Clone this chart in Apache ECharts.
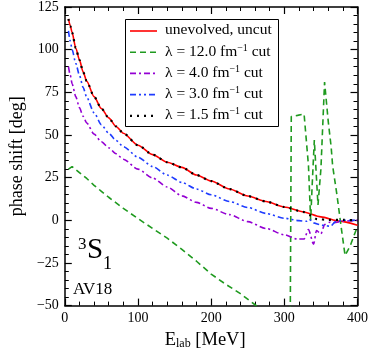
<!DOCTYPE html>
<html>
<head>
<meta charset="utf-8">
<script src="https://cdn.jsdelivr.net/npm/echarts@6/dist/echarts.min.js"></script>
<style>
html, body { margin: 0; padding: 0; background: #fff; }
#chart { width: 371px; height: 355px; }
</style>
</head>
<body>
<div id="chart"></div>
<script>
// values (E_lab in MeV, phase shift in deg)
const eUncut = [5, 7.5, 10, 15, 20, 25, 30, 40, 50, 60, 70, 80, 100, 120, 140, 160, 180, 200, 225, 250, 275, 300, 325, 350, 375, 400];
const uncut  = [118, 114, 110, 101, 94, 87, 81.5, 72.5, 65.5, 60, 55, 51, 44, 38.5, 34, 31, 26.5, 23, 18.3, 14.2, 11, 7.8, 5, 2, -0.5, -2.9];

const eL120 = [5, 10, 20, 30, 40, 50, 60, 80, 100, 120, 140, 160, 180, 200, 220, 240, 260, 280, 300, 308, 309.5, 318, 327, 333, 336, 338, 341, 346, 350, 355, 360, 364, 366, 372, 378, 383, 390, 400];
const l120  = [30, 31.5, 28, 24.5, 20.5, 17, 13.5, 7, 1, -4.8, -10.5, -17, -24, -31.5, -37.5, -43, -49.5, -56, -63, -66, 60.8, 61.5, 62.3, 32, 0, 20, 47, 9, 30, 81, 58, 43, 32, 14.6, -5, -20.6, -15, -3.5];

const eL40 = [5, 7.5, 10, 15, 20, 25, 30, 40, 50, 60, 70, 80, 100, 120, 140, 160, 180, 200, 225, 250, 275, 300, 318, 327, 333, 340, 344, 350, 355, 363, 368, 380, 400];
const l40  = [90, 85, 80, 72.5, 66, 61, 57, 50.5, 46, 42.5, 39, 35.8, 30, 24.8, 19.5, 14.3, 10.5, 7, 3.3, -0.8, -4.8, -8.5, -11, -11, -5.4, -14, -6, -8, -2.5, -1, -1.4, -0.5, 0];

const eL30 = [5, 7.5, 10, 15, 20, 25, 30, 40, 50, 60, 70, 80, 100, 120, 140, 160, 180, 200, 225, 250, 275, 300, 320, 330, 334, 340, 348, 356, 363, 370, 380, 400];
const l30  = [111, 105, 100, 92, 85, 78, 72, 63, 56, 51, 46.8, 43.2, 37, 31.5, 26.5, 22.2, 18.3, 15, 11, 7.5, 4, 1.2, -0.2, -0.6, 0.6, -1.5, -2.5, -3.2, -3.5, -0.8, 0, 0];

const eL15 = [5, 7.5, 10, 15, 20, 25, 30, 40, 50, 60, 70, 80, 100, 120, 140, 160, 180, 200, 225, 250, 275, 300, 325, 335, 345, 360, 380, 400];
const l15  = [118, 114, 110, 101, 94, 87, 81.5, 72.5, 65.5, 60, 55, 51, 44, 38.5, 34, 31, 26.5, 23, 18.3, 14.2, 11, 7.8, 5, 3, 0.6, 0.3, 0.2, 0];

const seriesNames = ['uncut', 'l120', 'l40', 'l30', 'l15'];
const legendLabels = {
    uncut: '{a|unevolved, uncut}',
    l120: '{a|λ = 12.0 fm}{sup|−1}{a| cut}',
    l40: '{a|λ = 4.0 fm}{sup|−1}{a| cut}',
    l30: '{a|λ = 3.0 fm}{sup|−1}{a| cut}',
    l15: '{a|λ = 1.5 fm}{sup|−1}{a| cut}'
};
const xTicks = [0, 400, 100];
const yTicks = [-50, 125, 25];

const FONT = 'Liberation Serif';
const pairs = (xs, ys) => xs.map((x, i) => [x, ys[i]]);

const chart = echarts.init(document.getElementById('chart'));

function axisBase(min, max, interval, showLabel, position) {
    return {
        type: 'value', min: min, max: max, interval: interval, position: position,
        axisLine: { show: true, onZero: false, lineStyle: { color: '#000', width: 1.5 } },
        axisTick: { show: true, inside: true, length: 7, lineStyle: { color: '#000', width: 1.2 } },
        minorTick: { show: true, splitNumber: 5, length: 4, lineStyle: { color: '#000', width: 1 } },
        splitLine: { show: false },
        axisLabel: {
            show: showLabel, color: '#000', fontFamily: FONT, fontSize: 14, margin: 6,
            formatter: v => String(v).replace('-', '−')
        }
    };
}

const xBottom = axisBase(xTicks[0], xTicks[1], xTicks[2], true, 'bottom');
xBottom.name = '{a|E}{sub|lab}{a| [MeV]}';
xBottom.nameLocation = 'middle';
xBottom.nameGap = 22;
xBottom.nameTextStyle = {
    color: '#000', fontFamily: FONT, padding: [0, 12, 0, 0],
    rich: {
        a: { fontFamily: FONT, fontSize: 18.5, color: '#000', lineHeight: 20 },
        sub: { fontFamily: FONT, fontSize: 12, color: '#000', lineHeight: 8, verticalAlign: 'bottom' }
    }
};
const xTop = axisBase(xTicks[0], xTicks[1], xTicks[2], false, 'top');

const yLeft = axisBase(yTicks[0], yTicks[1], yTicks[2], true, 'left');
yLeft.name = 'phase shift [deg]';
yLeft.nameLocation = 'middle';
yLeft.nameGap = 37;
yLeft.nameTextStyle = { color: '#000', fontFamily: FONT, fontSize: 18 };
const yRight = axisBase(yTicks[0], yTicks[1], yTicks[2], false, 'right');

const styles = {
    uncut: { color: '#ff0000', width: 1.6, type: 'solid', dash: null },
    l120: { color: '#1f9a1f', width: 1.6, type: [6, 4], dash: [6, 4] },
    l40: { color: '#9400d3', width: 1.6, type: [6, 3, 2, 3], dash: [6, 3, 2, 3] },
    l30: { color: '#1f3cff', width: 1.6, type: [6, 3, 2, 3, 2, 3], dash: [6, 3, 2, 3, 2, 3] },
    l15: { color: '#000000', width: 2.2, type: [2, 5], dash: [2, 5] }
};
const dataByName = {
    uncut: pairs(eUncut, uncut),
    l120: pairs(eL120, l120),
    l40: pairs(eL40, l40),
    l30: pairs(eL30, l30),
    l15: pairs(eL15, l15)
};

// legend box drawn by hand so the line samples keep their dash patterns
const legendGraphics = [
    { type: 'rect', left: 125, top: 19, z: 5, shape: { width: 153, height: 107 },
      style: { fill: '#fff', stroke: '#000', lineWidth: 1 } }
];
seriesNames.forEach((n, i) => {
    const y = 31 + i * 21.2;
    const s = styles[n];
    legendGraphics.push({
        type: 'line', z: 6,
        shape: { x1: 130, y1: y, x2: 157, y2: y },
        style: { stroke: s.color, lineWidth: s.width, lineDash: s.dash }
    });
    legendGraphics.push({
        type: 'text', z: 6, left: 165, top: y - 9,
        style: {
            text: legendLabels[n], fill: '#000',
            rich: {
                a: { fontFamily: FONT, fontSize: 15.5, fill: '#000', lineHeight: 17 },
                sup: { fontFamily: FONT, fontSize: 10, fill: '#000', lineHeight: 10, verticalAlign: 'top' }
            }
        }
    });
});

chart.setOption({
    animation: false,
    grid: { left: 50, right: 13, top: 7, bottom: 42 },
    xAxis: [xBottom, xTop],
    yAxis: [yLeft, yRight],
    graphic: legendGraphics.concat([
        { type: 'text', left: 78, top: 236, style: { text: '3', font: '17px "Liberation Serif"', fill: '#000' } },
        { type: 'text', left: 87, top: 236, style: { text: 'S', font: '29px "Liberation Serif"', fill: '#000' } },
        { type: 'text', left: 103, top: 255, style: { text: '1', font: '18px "Liberation Serif"', fill: '#000' } },
        { type: 'text', left: 73, top: 281, style: { text: 'AV18', font: '17px "Liberation Serif"', fill: '#000' } }
    ]),
    series: seriesNames.map(n => ({
        name: n, type: 'line', xAxisIndex: 0, yAxisIndex: 0,
        data: dataByName[n], symbol: 'none',
        smooth: n === 'l120' ? false : 0.25, smoothMonotone: 'x',
        color: styles[n].color,
        lineStyle: { color: styles[n].color, width: styles[n].width, type: styles[n].type },
        clip: true, z: n === 'l15' ? 3 : 2
    }))
});
</script>
</body>
</html>
